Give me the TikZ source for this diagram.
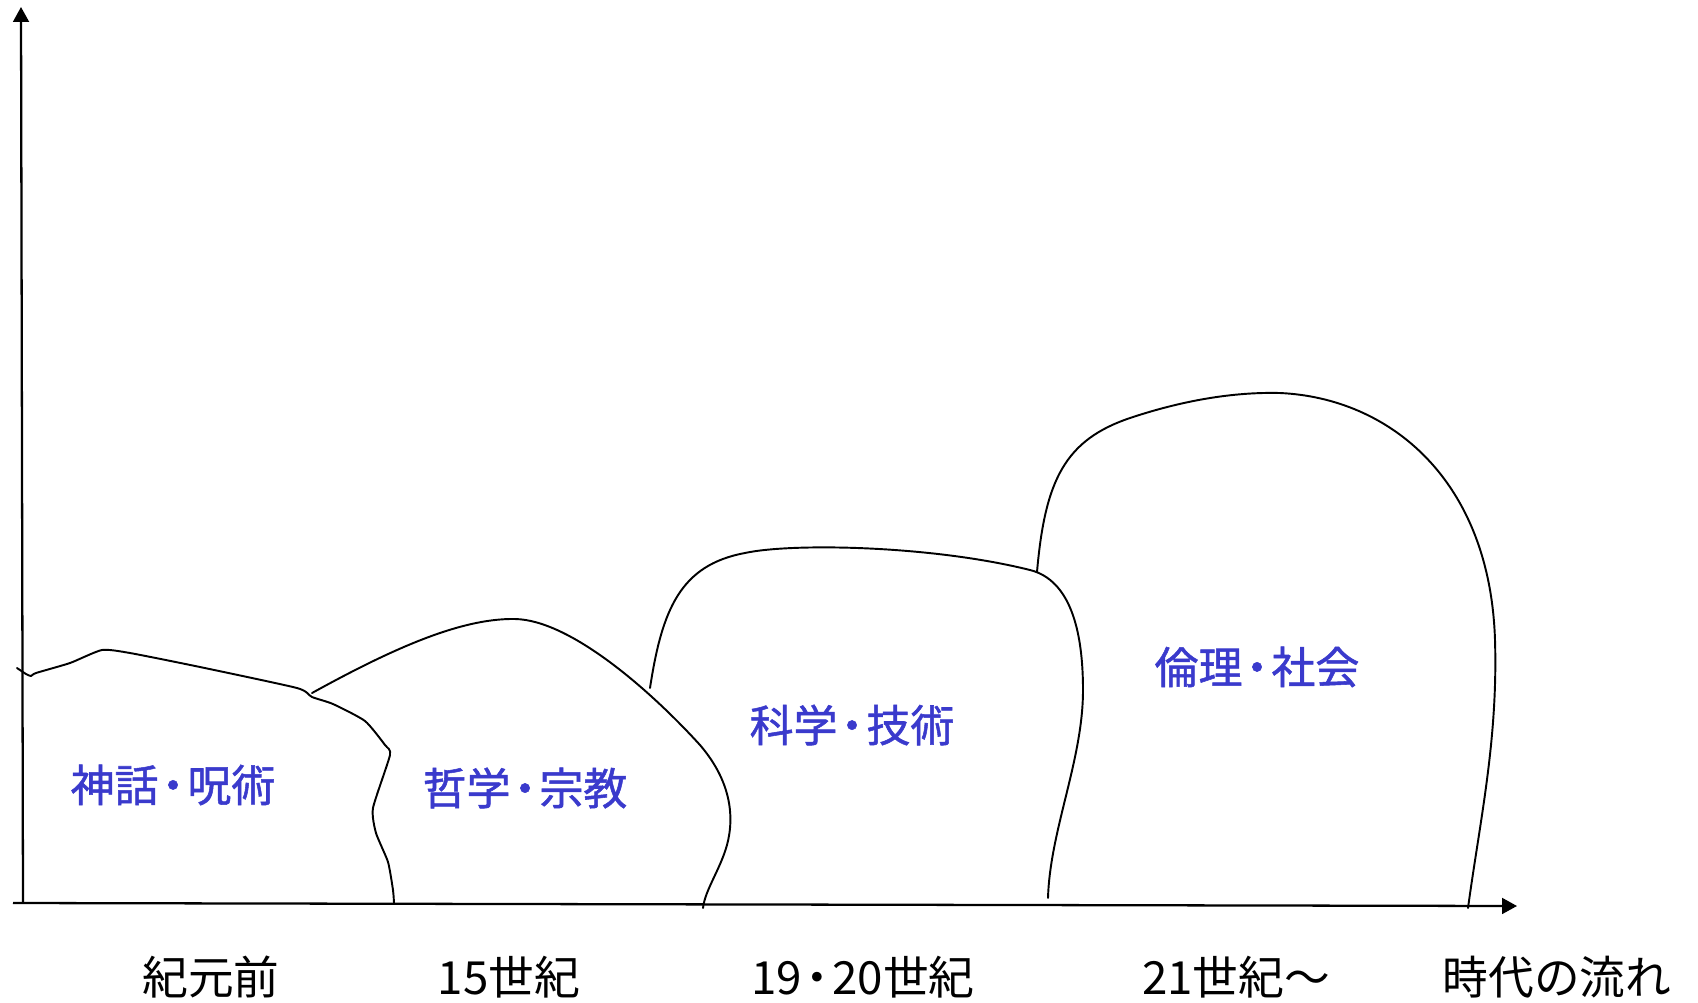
\documentclass[tikz,border=0pt]{standalone}
\usepackage{fontspec}
\setmainfont{Noto Sans CJK JP}
\newfontfamily\boldish{Noto Sans CJK JP}[FakeBold=1.2]
\usetikzlibrary{arrows.meta}
\definecolor{lblblue}{RGB}{58,58,204}
\newcommand\mdot{\kern-0.17em・\kern-0.17em}
\begin{document}
\begin{tikzpicture}[x=0.02cm,y=-0.02cm,
  axis/.style={line width=1.3pt, -{Triangle[length=8.5pt,width=9pt]}},
  blob/.style={line width=1.1pt, line join=round, line cap=round},
  era/.style={font=\fontsize{26pt}{31pt}\selectfont, inner sep=0pt},
  field/.style={font=\boldish\fontsize{25pt}{30pt}\selectfont, text=lblblue, inner sep=0pt}]
\useasboundingbox (0,0) rectangle (1698,1002);
% axes
\coordinate (xo) at (13,903);
\coordinate (xend) at (1517,906);
\coordinate (yo) at (23,903);
\coordinate (yend) at (21,7);
\draw[axis] (xo) -- (xend);
\draw[axis] (yo) -- (yend);
% shape 1
\draw[blob] plot[smooth, tension=0.35] coordinates {(17,668) (26,674) (31,676) (36,673) (70,663) (102,650) (130,653) (200,667) (297,688) (312,697) (333,704) (365,721) (385,745) (390,755) (373,808) (376,833) (388,862) (393,890) (394,903)};
% shape 2
\draw[blob] (312,693) .. controls (390,650) and (460,618) .. (515,619)
  .. controls (570,620) and (650,690) .. (700,745)
  .. controls (730,780) and (735,815) .. (727,845)
  .. controls (720,870) and (705,890) .. (703,908);
% shape 3
\draw[blob] (650,688) .. controls (662,610) and (680,565) .. (745,553)
  .. controls (790,543) and (930,545) .. (1030,570)
  .. controls (1070,580) and (1083,630) .. (1083,690)
  .. controls (1083,760) and (1050,830) .. (1048,898);
% shape 4
\draw[blob] (1037,572) .. controls (1045,480) and (1065,440) .. (1130,418)
  .. controls (1190,398) and (1240,392) .. (1280,393)
  .. controls (1390,398) and (1490,480) .. (1495,640)
  .. controls (1498,740) and (1480,820) .. (1468,908);
% field labels
\node[field] (f1) at (173,785) {神話\mdot 呪術};
\node[field] (f2) at (525,788) {哲学\mdot 宗教};
\node[field] (f3) at (852,725) {科学\mdot 技術};
\node[field] (f4) at (1257,667) {倫理\mdot 社会};
% era labels
\node[era] (e1) at (211,977) {紀元前};
\node[era] (e2) at (509,977) {15世紀};
\node[era] (e3) at (863,977) {19\mdot 20世紀};
\node[era] (e4) at (1236,977) {21世紀～};
\node[era] (e5) at (1557,977) {時代の流れ};
\end{tikzpicture}
\end{document}
